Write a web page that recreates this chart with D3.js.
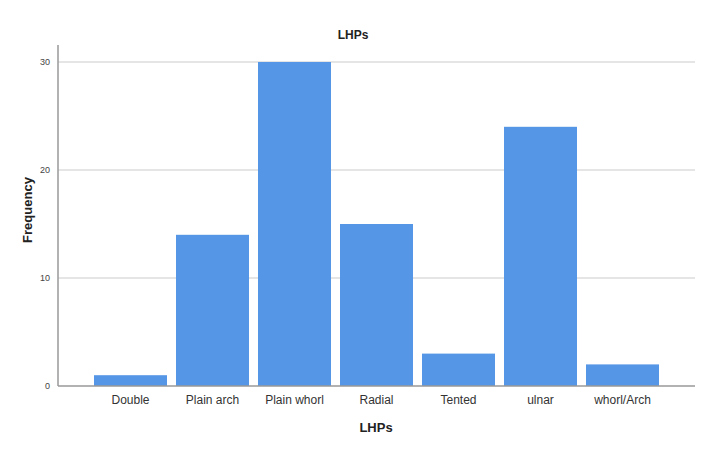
<!DOCTYPE html>
<html>
<head>
<meta charset="utf-8">
<script src="https://cdn.jsdelivr.net/npm/d3@7"></script>
<style>
  html, body { margin: 0; padding: 0; background: #fff; }
  svg { display: block; font-family: "Liberation Sans", Arial, sans-serif; }
</style>
</head>
<body>
<svg id="chart" width="725" height="461"></svg>
<script>
// Left-hand pattern counts
const categories = ["Double", "Plain arch", "Plain whorl", "Radial", "Tented", "ulnar", "whorl/Arch"];
const frequencies = [1, 14, 30, 15, 3, 24, 2];
const yTicks = [0, 10, 20, 30];

const svg = d3.select("#chart");

const plotLeft = 58, plotRight = 695, plotTop = 45, plotBottom = 386;

const x = d3.scaleBand()
  .domain(categories)
  .range([89.5, 663.5])
  .paddingInner(0.11)
  .paddingOuter(0.055);

const y = d3.scaleLinear()
  .domain([0, 30])
  .range([plotBottom, 62]);

// horizontal grid lines
svg.append("g")
  .selectAll("line")
  .data(yTicks.filter(t => t > 0))
  .join("line")
  .attr("x1", plotLeft).attr("x2", plotRight)
  .attr("y1", d => y(d)).attr("y2", d => y(d))
  .attr("stroke", "#dcdcdc")
  .attr("stroke-width", 1.5);

// bars
svg.append("g")
  .selectAll("rect")
  .data(categories)
  .join("rect")
  .attr("x", d => x(d))
  .attr("width", x.bandwidth())
  .attr("y", (d, i) => y(frequencies[i]))
  .attr("height", (d, i) => y(0) - y(frequencies[i]))
  .attr("fill", "#5596e6");

// y axis
const yAxis = svg.append("g")
  .attr("transform", `translate(${plotLeft},0)`)
  .call(d3.axisLeft(y).tickValues(yTicks).tickSize(0).tickPadding(8));
yAxis.select(".domain").remove();
yAxis.selectAll("text")
  .attr("font-size", 9)
  .attr("fill", "#444")
  .style("font-family", "Liberation Sans, Arial, sans-serif");
svg.append("line")
  .attr("x1", plotLeft).attr("x2", plotLeft)
  .attr("y1", plotTop).attr("y2", plotBottom)
  .attr("stroke", "#999").attr("stroke-width", 1.5);

// x axis
const xAxis = svg.append("g")
  .attr("transform", `translate(0,${plotBottom})`)
  .call(d3.axisBottom(x).tickSize(0).tickPadding(9));
xAxis.select(".domain").remove();
xAxis.selectAll("text")
  .attr("font-size", 12)
  .attr("fill", "#333")
  .style("font-family", "Liberation Sans, Arial, sans-serif");
svg.append("line")
  .attr("x1", plotLeft).attr("x2", plotRight)
  .attr("y1", plotBottom).attr("y2", plotBottom)
  .attr("stroke", "#999").attr("stroke-width", 1.5);

// titles
svg.append("text")
  .attr("x", 353).attr("y", 39)
  .attr("text-anchor", "middle")
  .attr("font-size", 12).attr("font-weight", "bold").attr("fill", "#222")
  .text("LHPs");

svg.append("text")
  .attr("x", 376).attr("y", 432)
  .attr("text-anchor", "middle")
  .attr("font-size", 13).attr("font-weight", "bold").attr("fill", "#222")
  .text("LHPs");

svg.append("text")
  .attr("transform", "translate(32,210) rotate(-90)")
  .attr("text-anchor", "middle")
  .attr("font-size", 13).attr("font-weight", "bold").attr("fill", "#222")
  .text("Frequency");
</script>
</body>
</html>
